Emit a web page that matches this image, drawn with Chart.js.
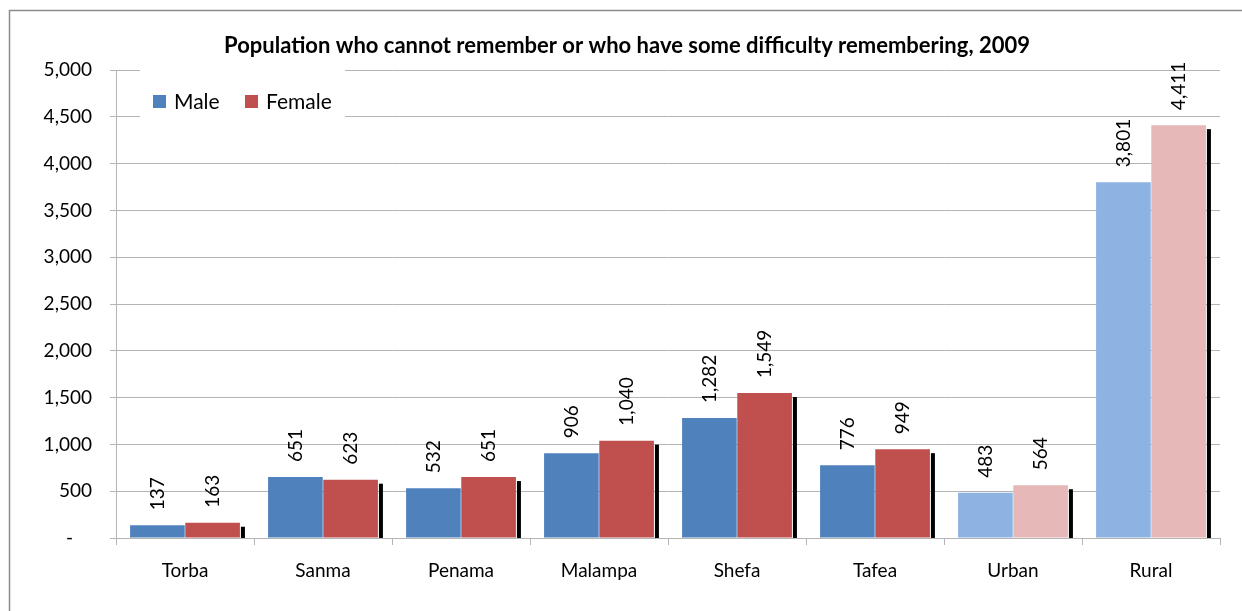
<!DOCTYPE html>
<html>
<head>
<meta charset="utf-8">
<script src="https://cdn.jsdelivr.net/npm/chart.js@4.4.1/dist/chart.umd.min.js"></script>
<style>
  body { margin: 0; background: #fff; }
  canvas { display: block; }
</style>
</head>
<body>
<canvas id="myChart" width="1242" height="611"></canvas>
<script>
const categories = ['Torba', 'Sanma', 'Penama', 'Malampa', 'Shefa', 'Tafea', 'Urban', 'Rural'];
const maleValues = [137, 651, 532, 906, 1282, 776, 483, 3801];
const femaleValues = [163, 623, 651, 1040, 1549, 949, 564, 4411];
const yTicks = [0, 500, 1000, 1500, 2000, 2500, 3000, 3500, 4000, 4500, 5000];
const titleText = 'Population who cannot remember or who have some difficulty remembering, 2009';

const FONT = 'Lato, "Open Sans", sans-serif';
const GRID = '#b4b4b4';

// Urban / Rural use the paler shades
const maleColors = categories.map(c => (c === 'Urban' || c === 'Rural') ? '#8db3e2' : '#4f81bd');
const femaleColors = categories.map(c => (c === 'Urban' || c === 'Rural') ? '#e6b9b8' : '#c0504d');

const fmt = v => v.toLocaleString('en-US');

// frame, title, legend box, shadows, value labels
const decorPlugin = {
  id: 'decorPlugin',
  beforeDraw(chart) {
    const ctx = chart.ctx;
    ctx.save();
    ctx.fillStyle = '#fff';
    ctx.fillRect(0, 0, chart.width, chart.height);
    ctx.strokeStyle = '#8c8c8c';
    ctx.lineWidth = 1.5;
    ctx.strokeRect(9.5, 10.5, chart.width + 20, chart.height + 20);
    ctx.restore();
  },
  beforeDatasetsDraw(chart) {
    const ctx = chart.ctx;
    ctx.save();
    // legend sits inside the plot, on a white box
    ctx.fillStyle = '#fff';
    ctx.fillRect(140, 66, 205, 55);
    ctx.font = '21px ' + FONT;
    ctx.textBaseline = 'middle';
    ctx.textAlign = 'left';
    const items = [
      { label: 'Male', color: '#4f81bd', x: 153 },
      { label: 'Female', color: '#c0504d', x: 245 }
    ];
    items.forEach(it => {
      ctx.fillStyle = it.color;
      ctx.fillRect(it.x, 95, 13, 13);
      ctx.fillStyle = '#000';
      ctx.fillText(it.label, it.x + 21, 102);
    });
    ctx.restore();
  },
  afterDatasetsDraw(chart) {
    const ctx = chart.ctx;
    const base = chart.scales.y.getPixelForValue(0);
    ctx.save();
    // black shadow right of each female bar
    chart.getDatasetMeta(1).data.forEach(bar => {
      const right = bar.x + bar.width / 2;
      ctx.fillStyle = '#000';
      ctx.fillRect(right + 1, bar.y + 4, 4, base - bar.y - 4);
    });
    // rotated value labels
    ctx.font = '19px ' + FONT;
    ctx.fillStyle = '#000';
    ctx.textAlign = 'left';
    ctx.textBaseline = 'middle';
    [0, 1].forEach(di => {
      const vals = di === 0 ? maleValues : femaleValues;
      chart.getDatasetMeta(di).data.forEach((bar, i) => {
        ctx.save();
        ctx.translate(bar.x, bar.y - 15);
        ctx.rotate(-Math.PI / 2);
        ctx.fillText(fmt(vals[i]), 0, 0);
        ctx.restore();
      });
    });
    // title
    ctx.font = 'bold 22px ' + FONT;
    ctx.textAlign = 'center';
    ctx.fillText(titleText, 627, 46);
    ctx.restore();
  }
};

new Chart(document.getElementById('myChart'), {
  type: 'bar',
  data: {
    labels: categories,
    datasets: [
      { label: 'Male', data: maleValues, backgroundColor: maleColors, borderWidth: 0 },
      { label: 'Female', data: femaleValues, backgroundColor: femaleColors, borderWidth: 0 }
    ]
  },
  options: {
    responsive: false,
    animation: false,
    devicePixelRatio: 1,
    layout: { padding: { left: 0, right: 22, top: 70, bottom: 0 } },
    datasets: { bar: { categoryPercentage: 0.8, barPercentage: 0.99 } },
    scales: {
      x: {
        afterFit: scale => { scale.height = 73; },
        grid: { offset: true, drawOnChartArea: false, drawTicks: true, tickLength: 7, color: GRID },
        border: { color: GRID },
        ticks: { color: '#000', font: { family: FONT, size: 19 }, padding: 14 }
      },
      y: {
        min: 0,
        max: 5000,
        afterFit: scale => { scale.width = 116; },
        afterBuildTicks: scale => { scale.ticks = yTicks.map(v => ({ value: v })); },
        grid: { color: GRID, tickLength: 6 },
        border: { color: GRID },
        ticks: {
          color: '#000',
          font: { family: FONT, size: 19 },
          padding: 18,
          // accounting-style dash for zero, set in from the right edge
          callback: v => v === 0 ? '-\u2002\u2002' : fmt(v)
        }
      }
    },
    plugins: {
      legend: { display: false },
      title: { display: false },
      tooltip: { enabled: false }
    }
  },
  plugins: [decorPlugin]
});
</script>
</body>
</html>
